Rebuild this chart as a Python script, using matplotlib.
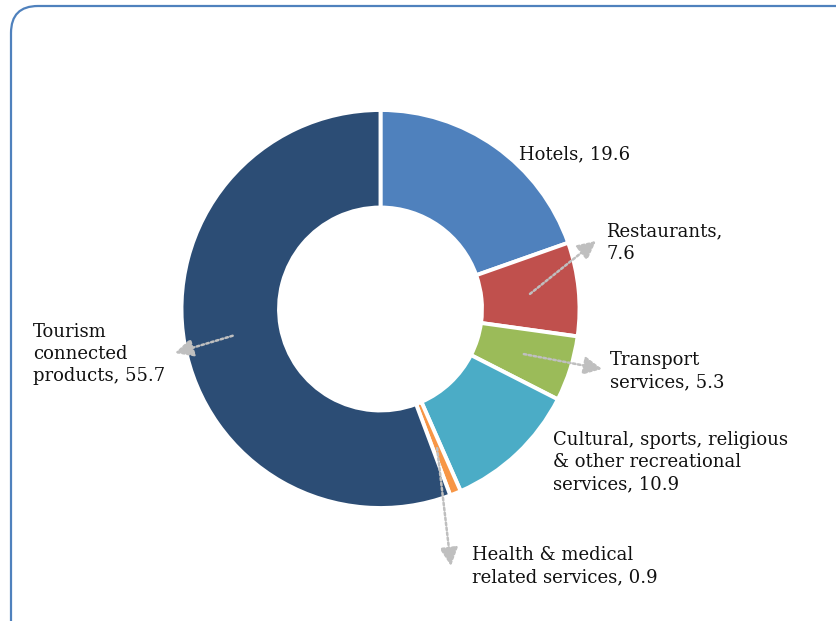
import matplotlib.pyplot as plt
import numpy as np
from matplotlib.patches import FancyBboxPatch

# data (share of tourism expenditure, %)
labels = ['Hotels, 19.6', 'Restaurants,\n7.6', 'Transport\nservices, 5.3',
          'Cultural, sports, religious\n& other recreational\nservices, 10.9',
          'Health & medical\nrelated services, 0.9',
          'Tourism\nconnected\nproducts, 55.7']
values = [19.6, 7.6, 5.3, 10.9, 0.9, 55.7]
colors = ['#4F81BD', '#C0504D', '#9BBB59', '#4BACC6', '#F79646', '#2C4D75']

H = 621
# label anchor (left, vertical centre) in pixel coords, and arrow tips (None = no arrow)
label_pos = [(519, 154), (606, 243), (610, 371), (553, 462), (472, 566), (33, 354)]
arrow_tip = [None, (596, 241), (602, 369), None, (451, 566), (175, 353)]

fig = plt.figure(figsize=(8.36, 6.21), dpi=100)
ax = fig.add_axes([0, 0, 1, 1])

cx, cy, R = 380.5, H - 309, 199
wedges, _ = ax.pie(values, colors=colors, startangle=90, counterclock=False,
                   radius=R, center=(cx, cy),
                   wedgeprops=dict(width=R * 0.49, edgecolor='white', linewidth=2.8))

ax.set_xlim(0, 836)
ax.set_ylim(0, H)
ax.set_aspect('equal')
ax.axis('off')

for w, lab, pos, tip in zip(wedges, labels, label_pos, arrow_tip):
    ax.text(pos[0], H - pos[1], lab, ha='left', va='center', fontsize=13,
            family='DejaVu Serif', color='#111111', linespacing=1.32)
    if tip is not None:
        mid = np.deg2rad((w.theta1 + w.theta2) / 2)
        r0 = R * 0.755
        start = (cx + r0 * np.cos(mid), cy + r0 * np.sin(mid))
        ax.annotate('', xy=(tip[0], H - tip[1]), xytext=start,
                    arrowprops=dict(arrowstyle='-|>,head_length=1.1,head_width=0.55',
                                    color='#BFBFBF', lw=1.8, linestyle=(0, (1, 1)),
                                    shrinkA=0, shrinkB=0))

frame = FancyBboxPatch((11, -40), 900, H - 6 + 40,
                       boxstyle='round,pad=0,rounding_size=27',
                       edgecolor='#4F81BD', facecolor='none', lw=1.6)
ax.add_patch(frame)

plt.savefig('out.png', dpi=100)
